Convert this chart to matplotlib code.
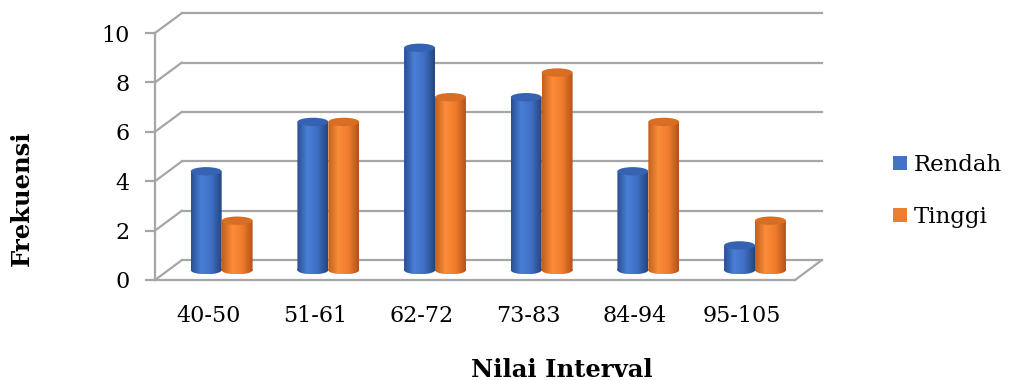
import numpy as np
import matplotlib.pyplot as plt
from matplotlib.patches import Rectangle, Ellipse, Patch
from matplotlib.colors import LinearSegmentedColormap
from matplotlib.path import Path

kategori = ['40-50', '51-61', '62-72', '73-83', '84-94', '95-105']
rendah = [4, 6, 9, 7, 4, 1]
tinggi = [2, 6, 7, 8, 6, 2]
y_ticks = [0, 2, 4, 6, 8, 10]

plt.rcParams['font.family'] = 'DejaVu Serif'

fig = plt.figure(figsize=(10.11, 3.8), dpi=100)
ax = fig.add_axes([155/1011, 100/380, 640/1011, 247/380])

# kedalaman semu 3D (dalam satuan data)
dx, dy = 0.25, 0.8
grid_c = '#a6a6a6'
n = len(kategori)
x_lo, x_hi = -0.5, n - 0.5

# dinding belakang + dinding kiri
for v in y_ticks:
    ax.plot([x_lo + dx, x_hi + dx], [v + dy, v + dy], color=grid_c, lw=1.6, clip_on=False, zorder=1)
    ax.plot([x_lo, x_lo + dx], [v, v + dy], color=grid_c, lw=1.6, clip_on=False, zorder=1)
# tepi kanan lantai
ax.plot([x_hi, x_hi + dx], [0, dy], color=grid_c, lw=1.6, clip_on=False, zorder=1)

cmap_blue = LinearSegmentedColormap.from_list('b', ['#2a4f92', '#4a7fd8', '#3f6fc4', '#25457f'])
cmap_orange = LinearSegmentedColormap.from_list('o', ['#c2601c', '#fb8c3a', '#ef7c2c', '#b4531a'])
grad = np.linspace(0, 1, 64).reshape(1, -1)

bar_w = 0.29
eh = 0.34


def silinder(x0, h, cmap, top_c):
    base = dy / 2
    rect = Rectangle((x0, base), bar_w, h)
    ell_b = Ellipse((x0 + bar_w / 2, base), bar_w, eh)
    clip = Path.make_compound_path(
        rect.get_path().transformed(rect.get_patch_transform()),
        ell_b.get_path().transformed(ell_b.get_patch_transform()))
    im = ax.imshow(grad, cmap=cmap, extent=(x0, x0 + bar_w, base - eh / 2, base + h),
                   aspect='auto', origin='lower', zorder=3, interpolation='bilinear')
    im.set_clip_path(clip, ax.transData)
    top = Ellipse((x0 + bar_w / 2, base + h), bar_w, eh, facecolor=top_c,
                  edgecolor='none', zorder=4)
    ax.add_patch(top)


for i in range(n):
    xc = i + dx / 2
    silinder(xc - bar_w, rendah[i], cmap_blue, '#3562b2')
    silinder(xc, tinggi[i], cmap_orange, '#d86d24')

ax.set_xlim(x_lo, x_hi)
ax.set_ylim(0, 10)

for s in ['top', 'right']:
    ax.spines[s].set_visible(False)
for s in ['left', 'bottom']:
    ax.spines[s].set_color(grid_c)
    ax.spines[s].set_linewidth(1.6)

ax.set_yticks(y_ticks)
ax.set_xticks(range(n))
ax.set_xticklabels(kategori)
ax.tick_params(axis='y', colors=grid_c, length=7, width=1.6, labelsize=16, pad=11, labelcolor='black')
ax.tick_params(axis='x', length=0, labelsize=16, pad=18)

fig.text(22/1011, 1 - 198/380, 'Frekuensi', rotation=90, ha='center', va='center',
         fontsize=17.5, fontweight='bold')
fig.text(562/1011, 1 - 370/380, 'Nilai Interval', ha='center', va='center',
         fontsize=17.5, fontweight='bold')

handles = [Patch(facecolor='#4472c4'), Patch(facecolor='#ed7d31')]
fig.legend(handles, ['Rendah', 'Tinggi'], loc='center left', bbox_to_anchor=(893/1011, 1 - 191/380),
           frameon=False, fontsize=16.5, handlelength=0.6, handleheight=0.6,
           handletextpad=0.3, labelspacing=1.3, borderpad=0, borderaxespad=0)

fig.savefig('out.png', dpi=100, facecolor='white')
